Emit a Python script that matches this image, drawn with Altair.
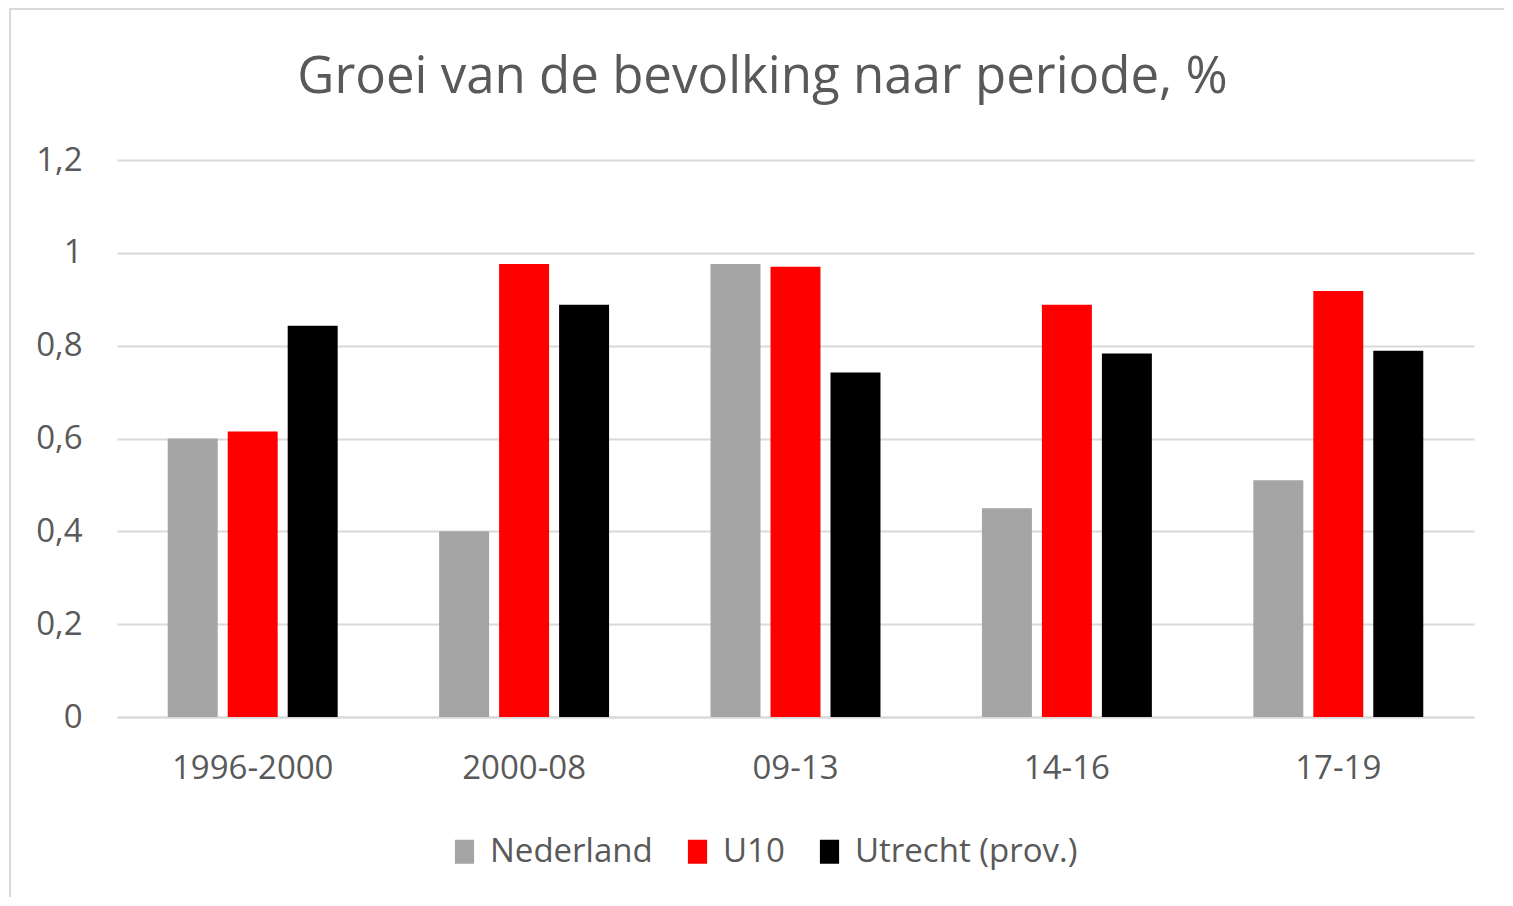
import altair as alt
import pandas as pd

periods = ["1996-2000", "2000-08", "09-13", "14-16", "17-19"]
series = ["Nederland", "U10", "Utrecht (prov.)"]
nederland = [0.60, 0.40, 0.976, 0.45, 0.51]
u10 = [0.615, 0.976, 0.970, 0.888, 0.918]
utrecht = [0.843, 0.888, 0.742, 0.783, 0.789]
colors = ["#A5A5A5", "#FF0000", "#000000"]
y_ticks = [0, 0.2, 0.4, 0.6, 0.8, 1.0, 1.2]

rows = []
for s, vals in zip(series, [nederland, u10, utrecht]):
    for p, v in zip(periods, vals):
        rows.append({"periode": p, "reeks": s, "groei": v})
df = pd.DataFrame(rows)

FONT = "Open Sans"
TXT = "#595959"
W, H = 1357, 557

bars = alt.Chart(df).mark_bar().encode(
    x=alt.X("periode:N", sort=periods, title=None,
            scale=alt.Scale(paddingInner=0.337, paddingOuter=0.1685),
            axis=alt.Axis(labelAngle=0, labelFont=FONT, labelFontSize=33,
                          labelColor=TXT, labelPadding=35, ticks=False,
                          domainColor="#D9D9D9", domainWidth=2, grid=False)),
    xOffset=alt.XOffset("reeks:N", sort=series,
                        scale=alt.Scale(paddingInner=0.1667, paddingOuter=0.0833)),
    y=alt.Y("groei:Q", title=None,
            scale=alt.Scale(domain=[0, 1.2], nice=False),
            axis=alt.Axis(values=y_ticks, format=",.1~f", labelExpr="replace(datum.label, '.', ',')",
                          labelFont=FONT, labelFontSize=33, labelColor=TXT,
                          labelPadding=35, ticks=False, domain=False,
                          gridColor="#D9D9D9", gridWidth=2)),
    color=alt.Color("reeks:N", sort=series,
                    scale=alt.Scale(domain=series, range=colors),
                    legend=alt.Legend(title=None, orient="none", direction="horizontal",
                                      legendX=331, legendY=675,
                                      labelFont=FONT, labelFontSize=33, labelColor=TXT,
                                      labelLimit=500,
                                      symbolType="M-0.8,-1H0.8V1H-0.8Z", symbolSize=576,
                                      symbolStrokeWidth=0, labelOffset=9,
                                      columnPadding=28)),
)

border = alt.Chart(alt.Data(values=[{}])).mark_rect(
    fill=None, stroke="#D9D9D9", strokeWidth=2
).encode(
    x=alt.value(-107), x2=alt.value(W + 200),
    y=alt.value(-151), y2=alt.value(H + 300),
)

chart = alt.layer(border, bars).properties(
    width=W, height=H,
    title=alt.TitleParams("Groei van de bevolking naar periode, %",
                          font=FONT, fontSize=51, fontWeight="normal", color=TXT,
                          anchor="middle", frame="group", dx=-33,
                          baseline="alphabetic", offset=-136),
    autosize=alt.AutoSizeParams(type="none"),
    padding={"left": 109, "top": 152, "right": 30, "bottom": 180},
).configure(background="white").configure_view(stroke=None)

chart.save("out.html", embed_options={"renderer": "svg", "actions": False})
